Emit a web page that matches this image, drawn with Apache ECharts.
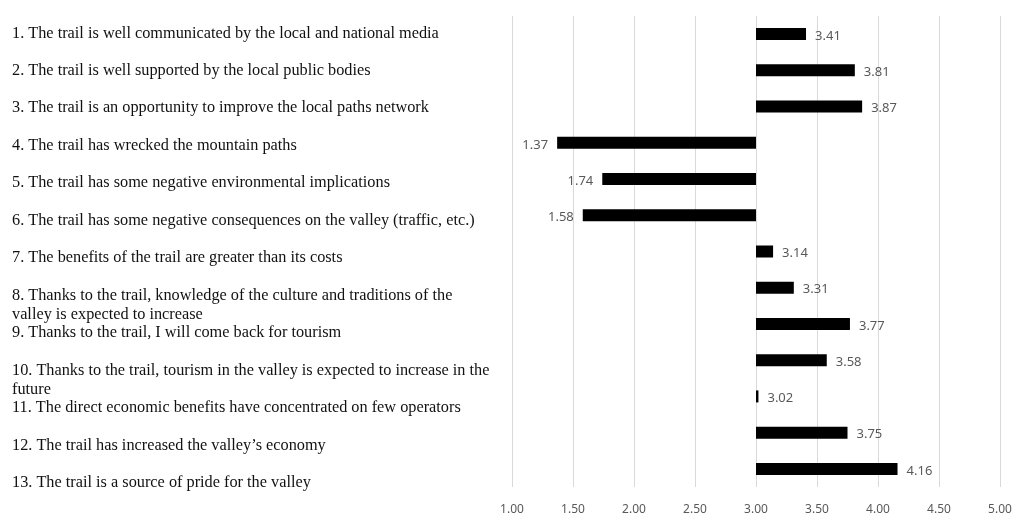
<!DOCTYPE html>
<html>
<head>
<meta charset="utf-8">
<script src="https://cdn.jsdelivr.net/npm/echarts@6/dist/echarts.min.js"></script>
<style>html,body{margin:0;padding:0;background:#fff;}#c{width:1030px;height:516px;}</style>
</head>
<body>
<div id="c"></div>
<script>
const statements = [
  "1. The trail is well communicated by the local and national media",
  "2. The trail is well supported by the local public bodies",
  "3. The trail is an opportunity to improve the local paths network",
  "4. The trail has wrecked the mountain paths",
  "5. The trail has some negative environmental implications",
  "6. The trail has some negative consequences on the valley (traffic, etc.)",
  "7. The benefits of the trail are greater than its costs",
  "8. Thanks to the trail, knowledge of the culture and traditions of the\nvalley is expected to increase",
  "9. Thanks to the trail, I will come back for tourism",
  "10. Thanks to the trail, tourism in the valley is expected to increase in the\nfuture",
  "11. The direct economic benefits have concentrated on few operators",
  "12. The trail has increased the valley\u2019s economy",
  "13. The trail is a source of pride for the valley"
];
const scores = [3.41, 3.81, 3.87, 1.37, 1.74, 1.58, 3.14, 3.31, 3.77, 3.58, 3.02, 3.75, 4.16];
const neutral = 3;
const xTicks = [1.00, 1.50, 2.00, 2.50, 3.00, 3.50, 4.00, 4.50, 5.00];

const chart = echarts.init(document.getElementById('c'));
const baseData = scores.map(v => Math.min(v, neutral));
const deltaData = scores.map((v, i) => ({
  value: Math.abs(v - neutral),
  label: { position: v >= neutral ? 'right' : 'left' }
}));

chart.setOption({
  animation: false,
  grid: [
    { left: 512, right: 30, top: 16, height: 475 },
    { left: 512, right: 30, top: 14.5, height: 487 }
  ],
  xAxis: [
    {
      gridIndex: 0, type: 'value', min: xTicks[0], max: xTicks[xTicks.length - 1], interval: 0.5,
      axisLine: { show: false }, axisTick: { show: false },
      splitLine: { show: true, lineStyle: { color: '#d9d9d9', width: 1 } },
      axisLabel: { color: '#595959', fontFamily: 'Noto Sans', fontSize: 12, margin: 17,
        formatter: v => v.toFixed(2) }
    },
    { gridIndex: 1, type: 'value', show: false, min: 0, max: 1 }
  ],
  yAxis: [
    {
      gridIndex: 0, type: 'category', inverse: true, data: statements,
      axisLine: { show: false }, axisTick: { show: false }, axisLabel: { show: false },
      splitLine: { show: false }
    },
    {
      gridIndex: 1, type: 'category', inverse: true, data: statements,
      axisLine: { show: false }, axisTick: { show: false }, splitLine: { show: false },
      axisLabel: {
        show: true, interval: 0, align: 'left', verticalAlign: 'middle', margin: 500,
        fontFamily: 'Liberation Serif', fontSize: 16.3, color: '#111', lineHeight: 19.5,
        formatter: t => t.indexOf('\n') >= 0 ? '\n' + t : t
      }
    }
  ],
  series: [
    {
      type: 'bar', stack: 'd', xAxisIndex: 0, yAxisIndex: 0, barWidth: 12,
      itemStyle: { color: 'rgba(0,0,0,0)' }, data: baseData, silent: true
    },
    {
      type: 'bar', stack: 'd', xAxisIndex: 0, yAxisIndex: 0, barWidth: 12,
      itemStyle: { color: '#000' },
      label: {
        show: true, distance: 9, color: '#595959', fontFamily: 'Noto Sans', fontSize: 13,
        offset: [0, 2],
        formatter: p => scores[p.dataIndex].toFixed(2)
      },
      data: deltaData
    }
  ]
});
</script>
</body>
</html>
